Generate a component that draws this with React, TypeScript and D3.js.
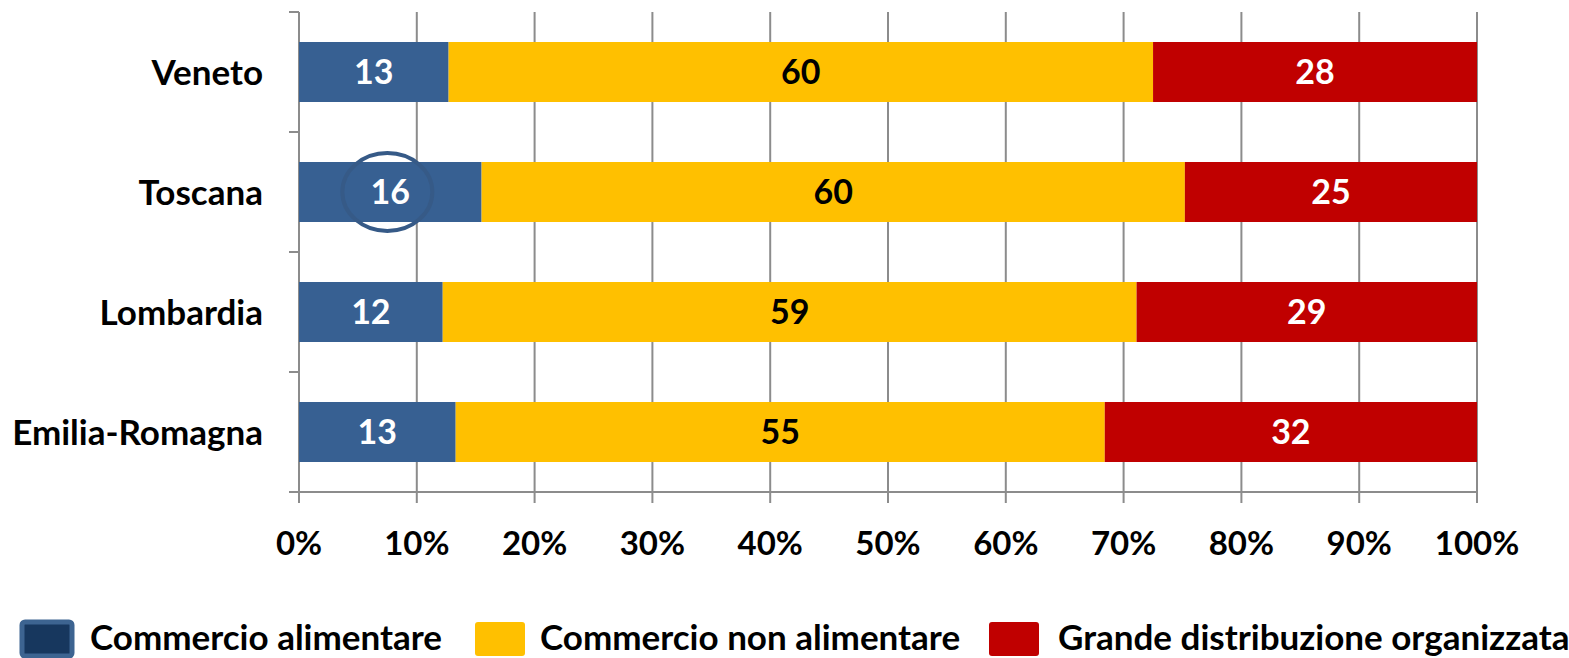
import React from "react";
import * as d3 from "d3";

const categories = ["Veneto", "Toscana", "Lombardia", "Emilia-Romagna"];
const seriesNames = ["Commercio alimentare", "Commercio non alimentare", "Grande distribuzione organizzata"];
const alimentare = [12.7, 15.5, 12.2, 13.3];
const nonAlimentare = [59.8, 59.7, 58.9, 55.1];
const gdo = [27.5, 24.8, 28.9, 31.6];
const labelsAlimentare = ["13", "16", "12", "13"];
const labelsNonAlimentare = ["60", "60", "59", "55"];
const labelsGdo = ["28", "25", "29", "32"];
const xTicks = [0, 10, 20, 30, 40, 50, 60, 70, 80, 90, 100];

const colors = ["#376092", "#FFC000", "#C00000"];
const labelColors = ["#ffffff", "#000000", "#ffffff"];
const FONT = "Lato, 'Open Sans', sans-serif";

export default function App() {
  const W = 1569, H = 658;
  const x = d3.scaleLinear().domain([0, 100]).range([299, 1477]);
  const y = d3.scaleBand<string>().domain(categories).range([12, 492]).paddingInner(0.5).paddingOuter(0.25);
  const step = y.step();
  const rows = categories.map((c, i) => ({ cat: c, vals: [alimentare[i], nonAlimentare[i], gdo[i]], labels: [labelsAlimentare[i], labelsNonAlimentare[i], labelsGdo[i]] }));
  const stack = d3.stack<any>().keys(["0", "1", "2"]).value((d: any, k: string) => d.vals[+k]);
  const stacked = stack(rows as any);
  const gridColor = "#8c8c8c";
  const legendItems = [
    { x: 22, tx: 90 },
    { x: 475, tx: 540 },
    { x: 989, tx: 1058 },
  ];
  const toscanaY = (y("Toscana") as number) + y.bandwidth() / 2;
  return (
    <svg width={W} height={H} style={{ position: "absolute", left: 0, top: 0, background: "#fff" }}>
      {xTicks.map((t) => (
        <line key={"g" + t} x1={x(t)} x2={x(t)} y1={12} y2={503} stroke={gridColor} strokeWidth={2} />
      ))}
      {d3.range(categories.length + 1).map((i) => (
        <line key={"yt" + i} x1={289} x2={299} y1={12 + i * step} y2={12 + i * step} stroke={gridColor} strokeWidth={2} />
      ))}
      <line x1={289} x2={1477} y1={492} y2={492} stroke={gridColor} strokeWidth={2} />
      {stacked.map((s, si) => (
        <g key={"s" + si}>
          {s.map((d, i) => {
            const x0 = x(d[0]), x1 = x(d[1]);
            const yy = y(categories[i]) as number;
            return (
              <g key={i}>
                <rect x={x0} y={yy} width={x1 - x0} height={y.bandwidth()} fill={colors[si]} />
                <text x={(x0 + x1) / 2} y={yy + y.bandwidth() / 2} dy="0.36em" textAnchor="middle" fontFamily={FONT} fontWeight="bold" fontSize={34} fill={labelColors[si]}>
                  {rows[i].labels[si]}
                </text>
              </g>
            );
          })}
        </g>
      ))}
      <ellipse cx={x(7.5)} cy={toscanaY} rx={45} ry={39} fill="none" stroke="#365a87" strokeWidth={4} />
      {categories.map((c) => (
        <text key={c} x={263} y={(y(c) as number) + y.bandwidth() / 2} dy="0.36em" textAnchor="end" fontFamily={FONT} fontWeight="bold" fontSize={35} fill="#000">
          {c}
        </text>
      ))}
      {xTicks.map((t) => (
        <text key={"xl" + t} x={x(t)} y={555} textAnchor="middle" fontFamily={FONT} fontWeight="bold" fontSize={33} fill="#000">
          {t + "%"}
        </text>
      ))}
      {seriesNames.map((n, i) => (
        <g key={n}>
          <rect x={legendItems[i].x} y={622} width={50} height={34} rx={3}
            fill={i === 0 ? "#17375e" : colors[i]} stroke={i === 0 ? "#3d6491" : "none"} strokeWidth={i === 0 ? 5 : 0} />
          <text x={legendItems[i].tx} y={650} fontFamily={FONT} fontWeight="bold" fontSize={35} fill="#000">{n}</text>
        </g>
      ))}
    </svg>
  );
}
